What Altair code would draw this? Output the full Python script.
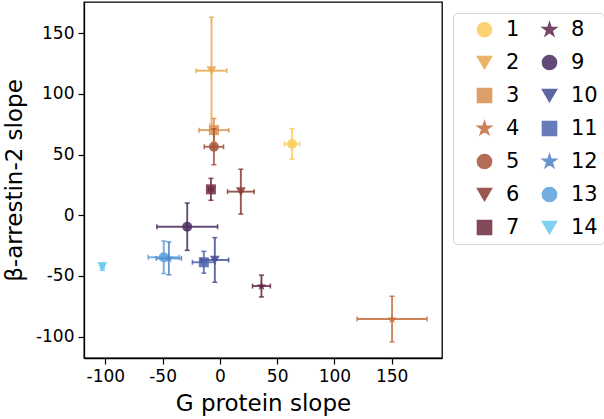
import altair as alt
import pandas as pd

labels = [str(i) for i in range(1, 15)]
g_slope = [63, -7.3, -5.2, 150.3, -5.2, 18.3, -7.8, 36.3, -28.5, -4.4, -14, -44.5, -49, -102.6]
b_slope = [58.8, 119.2, 70.2, -85.5, 56.5, 19.5, 21.4, -58.3, -9.4, -36.8, -38.7, -35.5, -34.6, -42.3]
g_err = [6.5, 13.4, 13, 30.5, 8.4, 11.6, 2, 7.8, 26.5, 12, 10, 11, 13.5, 1.5]
b_err = [12.6, 44, 9.6, 18.8, 14.8, 18.5, 9, 9, 19.5, 18.4, 9, 13.5, 13.4, 3]
colors = ["#FCCB5A", "#E8A74E", "#D98E4F", "#C46E3E", "#A5533A", "#8A3A33", "#6E2A3D",
          "#5E2547", "#4A2B60", "#434C94", "#4E64AE", "#4F82C8", "#5AA0DA", "#6BC8EF"]
STAR = ("M0,-1L0.2245,-0.309L0.951,-0.309L0.363,0.118L0.588,0.809L0,0.382"
        "L-0.588,0.809L-0.363,0.118L-0.951,-0.309L-0.2245,-0.309Z")
shape_cycle = ["circle", "triangle-down", "square", STAR]
shapes = [shape_cycle[i % 4] for i in range(14)]

df = pd.DataFrame({"label": labels, "gx": g_slope, "by": b_slope, "gerr": g_err, "berr": b_err})
df["xlo"] = df["gx"] - df["gerr"]
df["xhi"] = df["gx"] + df["gerr"]
df["ylo"] = df["by"] - df["berr"]
df["yhi"] = df["by"] + df["berr"]

xs = alt.Scale(domain=[-118.6, 193.9], nice=False, zero=False)
ys = alt.Scale(domain=[-117.6, 175.8], nice=False, zero=False)
cs = alt.Scale(domain=labels, range=colors)
ss = alt.Scale(domain=labels, range=shapes)

xaxis = alt.Axis(title="G protein slope", values=[-100, -50, 0, 50, 100, 150],
                 labelExpr="toString(datum.value)")
yaxis = alt.Axis(title="β-arrestin-2 slope", values=[-100, -50, 0, 50, 100, 150],
                 labelExpr="toString(datum.value)")

legend = alt.Legend(title=None, orient="none", legendX=369, legendY=11, columns=2,
                    symbolSize=200, labelFontSize=21, labelFont="DejaVu Sans",
                    labelColor="black", labelOffset=11, symbolOffset=15,
                    columnPadding=4, rowPadding=11, padding=6,
                    strokeColor="#d4d4d4", fillColor="white", cornerRadius=4)

base = alt.Chart(df)
col = alt.Color("label:N", scale=cs, legend=legend)
shp = alt.Shape("label:N", scale=ss, legend=legend)
OP = 0.85

hbar = base.mark_rule(strokeWidth=1.9, opacity=OP).encode(
    x=alt.X("xlo:Q", scale=xs, axis=xaxis), x2="xhi:Q",
    y=alt.Y("by:Q", scale=ys, axis=yaxis), color=col)
vbar = base.mark_rule(strokeWidth=1.9, opacity=OP).encode(
    x=alt.X("gx:Q", scale=xs), y=alt.Y("ylo:Q", scale=ys), y2="yhi:Q", color=col)

capx = pd.concat([df[["label", "by"]].assign(cx=df["xlo"]), df[["label", "by"]].assign(cx=df["xhi"])])
capy = pd.concat([df[["label", "gx"]].assign(cy=df["ylo"]), df[["label", "gx"]].assign(cy=df["yhi"])])
hcaps = alt.Chart(capx).mark_tick(orient="vertical", size=5, thickness=1.5, opacity=OP).encode(
    x=alt.X("cx:Q", scale=xs), y=alt.Y("by:Q", scale=ys), color=col)
vcaps = alt.Chart(capy).mark_tick(orient="horizontal", size=5, thickness=1.5, opacity=OP).encode(
    x=alt.X("gx:Q", scale=xs), y=alt.Y("cy:Q", scale=ys), color=col)

points = base.mark_point(filled=True, size=100, opacity=OP).encode(
    x=alt.X("gx:Q", scale=xs), y=alt.Y("by:Q", scale=ys), color=col, shape=shp)

chart = alt.layer(points, hbar, vbar, hcaps, vcaps).properties(
    width=358, height=356,
    padding={"left": 84, "top": 2, "right": 162, "bottom": 61},
    autosize=alt.AutoSizeParams(type="none"),
).configure_view(stroke="black", strokeWidth=1.3).configure_axis(
    grid=False, domainColor="black", domainWidth=1.3, tickColor="black", tickSize=6,
    tickWidth=1.2, labelColor="black", labelFont="DejaVu Sans", labelFontSize=17,
    labelPadding=4, titleFont="DejaVu Sans", titleFontSize=23, titleFontWeight="normal",
    titleColor="black",
).configure_axisX(titlePadding=8).configure_axisY(titlePadding=9)

chart.save("out.html", embed_options={"renderer": "svg", "actions": False})
